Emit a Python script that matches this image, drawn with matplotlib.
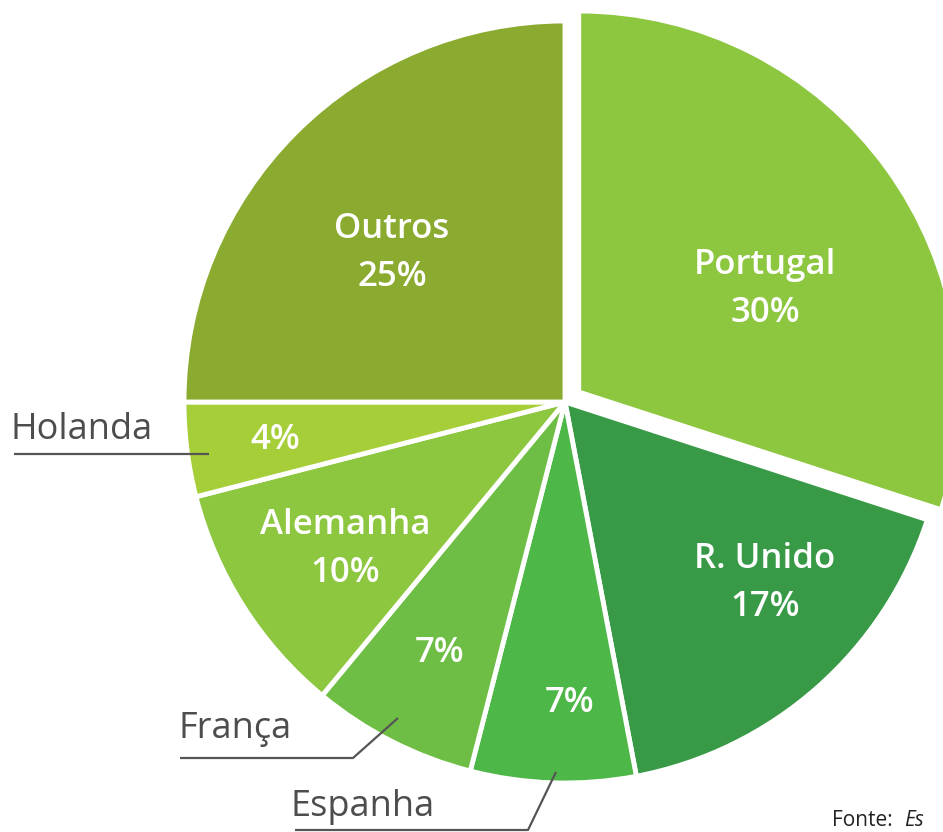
"""
Pie chart: share of visitors by country of origin
"""
import matplotlib
matplotlib.use('Agg')
import matplotlib.pyplot as plt

countries = ['Portugal', 'R. Unido', 'Espanha', 'França', 'Alemanha', 'Holanda', 'Outros']
shares = [30, 17, 7, 7, 10, 4, 25]
colors = ['#8DC63F', '#389A47', '#4DB748', '#6EBE45', '#8DC63F', '#A6CE39', '#8AAB2F']
explode = [17, 0, 0, 0, 0, 0, 0] #in pixels, pie does not scale it by radius

W, H = 943, 832
def fy(y):
    #image coords (y down) -> axes coords (y up)
    return H - y

fig = plt.figure(figsize=(W/100, H/100), dpi=100)
ax = fig.add_axes([0, 0, 1, 1])
ax.pie(shares, colors=colors, explode=explode, startangle=90, counterclock=False,
       center=(565, fy(402)), radius=381,
       wedgeprops=dict(edgecolor='white', linewidth=3.5))
ax.set_xlim(0, W)
ax.set_ylim(0, H)
ax.set_aspect('equal')
ax.axis('off')

#label positions inside the wedges, and whether the country name is shown
inside = {'Portugal': (765, 289, True), 'R. Unido': (765, 583, True),
          'Espanha': (570, 703, False), 'França': (440, 653, False),
          'Alemanha': (345, 549, True), 'Holanda': (275, 440, False),
          'Outros': (392, 253, True)}
font_in = dict(family='Open Sans', weight='semibold', color='white', fontsize=25,
               ha='center', va='center', linespacing=1.5)
for name, share in zip(countries, shares):
    x, y, show_name = inside[name]
    txt = f'{name}\n{share}%' if show_name else f'{share}%'
    ax.text(x, fy(y), txt, **font_in)

#outer labels with leader lines
font_out = dict(family='Open Sans', color='#4D4D4D', fontsize=26, va='center', ha='left')
line = dict(color='#555555', linewidth=1.6, solid_capstyle='butt')
ax.text(11, fy(430), 'Holanda', **font_out)
ax.plot([14, 209], [fy(454), fy(454)], **line)
ax.text(178, fy(729), 'França', **font_out)
ax.plot([180, 353, 398], [fy(758), fy(758), fy(718)], **line)
ax.text(290, fy(807), 'Espanha', **font_out)
ax.plot([295, 528, 556], [fy(830), fy(830), fy(772)], **line)

ax.text(832, fy(820), 'Fonte: ', family='Open Sans', fontsize=15, color='#222222',
        va='center', ha='left')
ax.text(904, fy(820), 'Es', family='Open Sans', style='italic', fontsize=15,
        color='#222222', va='center', ha='left')

fig.savefig('out.png', dpi=100)
